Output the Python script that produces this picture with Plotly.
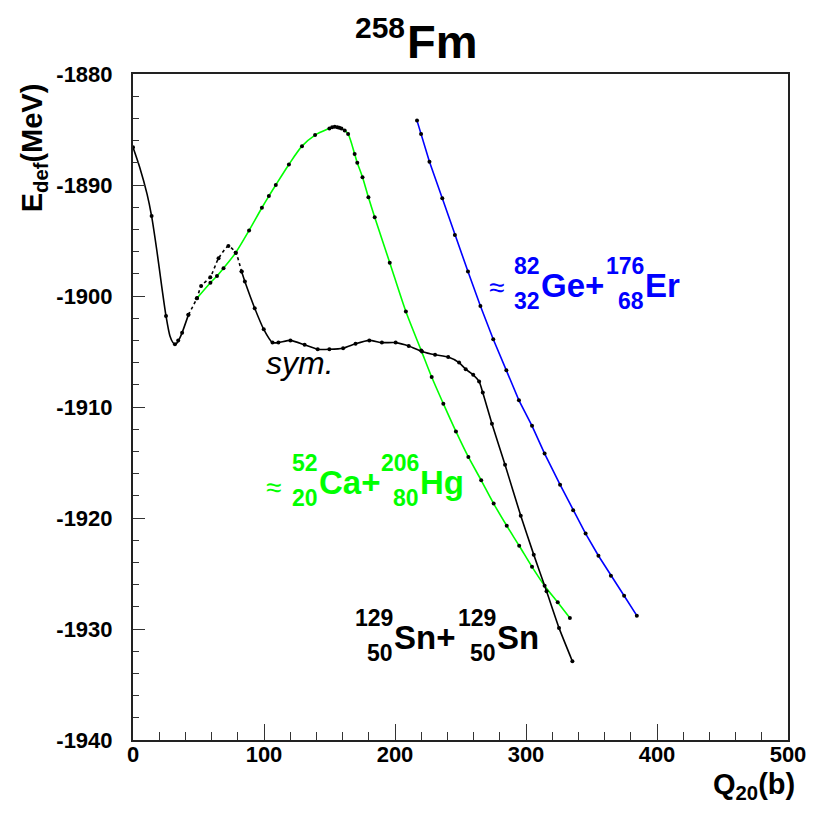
import plotly.graph_objects as go

# ---- deformation energy curves of 258Fm (E_def in MeV vs Q20 in barn) ----
# symmetric path: solid line
sym_q = [0, 5.1, 10.7, 14.2, 18.2, 22.0, 25.2, 28.2, 30.5, 32.0, 33.8, 35.7, 37.5, 42.3]
sym_e = [-1886.6, -1888.4, -1890.8, -1892.8, -1895.9, -1899.2, -1901.8, -1903.6,
         -1904.2, -1904.35, -1904.2, -1903.8, -1903.3, -1901.7]
sym_mark_q = [0, 14.2, 25.2, 32.0, 34.5, 37.5, 42.3]
sym_mark_e = [-1886.6, -1892.8, -1901.8, -1904.35, -1904.0, -1903.3, -1901.7]

# symmetric path: dotted stretch over the first barrier
symdot_q = [42.3, 48.8, 52.0, 59.0, 65.3, 72.8, 78.4, 82.9]
symdot_e = [-1901.7, -1900.2, -1899.1, -1898.3, -1896.6, -1895.5, -1896.1, -1897.8]

# symmetric path: solid continuation to scission
symb_q = [82.9, 85.4, 92.9, 99.8, 106.5, 111.0, 120.2, 131.0, 141.0, 149.9, 160.4,
          169.9, 180.4, 190.0, 200.5, 210.5, 220.6, 230.6, 240.6, 248.9, 254.0,
          259.7, 264.2, 267.0, 274.0, 284.0, 296.0, 305.9, 315.7, 325.2, 335.4]
symb_e = [-1897.8, -1898.7, -1901.1, -1903.0, -1904.2, -1904.2, -1904.0, -1904.4,
          -1904.8, -1904.8, -1904.7, -1904.3, -1904.0, -1904.2, -1904.2, -1904.5,
          -1905.0, -1905.3, -1905.5, -1906.0, -1906.6, -1907.1, -1907.7, -1908.7,
          -1911.5, -1915.2, -1919.8, -1923.3, -1926.6, -1929.9, -1932.9]

# asymmetric path towards 52Ca + 206Hg
ca_q = [48.8, 59.1, 64.1, 69.1, 78.4, 88.6, 98.4, 103.7, 109.0, 119.0, 129.0,
        139.0, 149.9, 152.0, 154.0, 156.0, 157.5, 159.1, 161.6, 164.2, 169.2, 171.2,
        175.2, 179.7, 184.5, 196.0, 208.3, 220.0, 228.0, 236.9, 246.5, 256.0,
        265.8, 275.3, 285.3, 294.8, 304.6, 314.2, 324.2, 333.5]
ca_e = [-1900.2, -1898.8, -1898.2, -1897.5, -1896.1, -1894.1, -1892.05, -1891.0,
        -1890.0, -1888.15, -1886.5, -1885.5, -1884.9, -1884.8, -1884.75, -1884.8,
        -1884.85, -1884.9, -1885.1, -1885.4, -1887.2, -1888.0, -1889.3, -1891.1,
        -1892.9, -1897.0, -1901.4, -1904.9, -1907.3, -1909.7, -1912.2, -1914.5,
        -1916.6, -1918.7, -1920.7, -1922.5, -1924.4, -1926.1, -1927.6, -1929.0]

# path towards 82Ge + 176Er
ge_q = [216.8, 219.9, 226.3, 236.1, 245.7, 255.7, 265.2, 275.0, 285.0, 294.6,
        304.6, 314.2, 326.0, 336.0, 345.5, 355.3, 364.8, 374.9, 384.6]
ge_e = [-1884.2, -1885.4, -1887.9, -1891.2, -1894.5, -1897.8, -1900.9, -1903.9,
        -1906.7, -1909.4, -1911.7, -1914.2, -1917.0, -1919.3, -1921.4, -1923.4,
        -1925.2, -1927.0, -1928.8]

# axis ticks
x_ticks = [0, 100, 200, 300, 400, 500]
y_ticks = [-1940, -1930, -1920, -1910, -1900, -1890, -1880]
y_tick_text = ["-1940", "-1930", "-1920", "-1910", "-1900", "-1890", "-1880"]

FONT = "Liberation Sans"
W, H = 818, 814
L, R, T, B = 133, 797, 74, 740


def px(xp):
    return (xp - L) / (R - L)


def py(yp):
    return (B - yp) / (B - T)


fig = go.Figure()

line_w = 1.6
dot = dict(size=4, color="black")
GREEN = "#00ff00"
BLUE = "#0000ff"

fig.add_trace(go.Scatter(x=ca_q, y=ca_e, mode="lines+markers",
                         line=dict(color=GREEN, width=line_w, shape="spline", smoothing=0.8),
                         marker=dot))
fig.add_trace(go.Scatter(x=ge_q, y=ge_e, mode="lines+markers",
                         line=dict(color=BLUE, width=line_w),
                         marker=dot))
fig.add_trace(go.Scatter(x=sym_q, y=sym_e, mode="lines",
                         line=dict(color="black", width=line_w, shape="spline", smoothing=0.8)))
fig.add_trace(go.Scatter(x=sym_mark_q, y=sym_mark_e, mode="markers", marker=dot))
fig.add_trace(go.Scatter(x=symdot_q, y=symdot_e, mode="lines+markers",
                         line=dict(color="black", width=line_w, dash="dot", shape="spline", smoothing=0.6),
                         marker=dot))
fig.add_trace(go.Scatter(x=symb_q, y=symb_e, mode="lines+markers",
                         line=dict(color="black", width=line_w, shape="spline", smoothing=0.5),
                         marker=dot))

ann = []


def text(s, x, y, size, color="black", xa="left", ya="middle", weight="bold",
         style="normal", angle=0):
    ann.append(dict(text=s, x=px(x), y=py(y), xref="paper", yref="paper",
                    xanchor=xa, yanchor=ya, showarrow=False, textangle=angle,
                    borderpad=0, borderwidth=0,
                    font=dict(family=FONT, size=size, color=color,
                              weight=weight, style=style)))


def nucleus(sym, a, z, x_left, y_mid, color, big=33, small=23):
    text(sym, x_left, y_mid, big, color)
    text(a, x_left - 1, y_mid - 19, small, color, xa="right")
    text(z, x_left - 1, y_mid + 16, small, color, xa="right")


# title: 258Fm
text("Fm", 411, 42, 47)
text("258", 409, 28, 30, xa="right")

# fragment labels
text("≈", 501, 287, 28, BLUE, xa="center", weight="normal")
nucleus("Ge+", "82", "32", 547, 285, BLUE)
nucleus("Er", "176", "68", 652, 285, BLUE)

text("≈", 275, 487, 28, GREEN, xa="center", weight="normal")
nucleus("Ca+", "52", "20", 322, 482, GREEN)
nucleus("Hg", "206", "80", 424, 482, GREEN)

nucleus("Sn+", "129", "50", 398, 637, "black")
nucleus("Sn", "129", "50", 502, 637, "black")

text("sym.", 268, 363, 32, weight="normal", style="italic")

# axis titles
text("Q<sub>20</sub>(b)", 804, 786, 29, xa="right")
text("E<sub>def</sub>(MeV)", 33, 148, 29, xa="center", angle=-90)

fig.update_layout(
    width=W, height=H,
    margin=dict(l=L, r=W - R, t=T, b=H - B),
    paper_bgcolor="white", plot_bgcolor="white",
    showlegend=False,
    annotations=ann,
    font=dict(family=FONT, color="black"),
)
fig.update_xaxes(
    range=[0, 500], tickvals=x_ticks, ticks="inside", ticklen=16, tickwidth=1,
    tickcolor="#333", showgrid=False, zeroline=False,
    showline=True, linecolor="#222", linewidth=2, mirror=True,
    tickfont=dict(family=FONT, size=22, weight="bold", color="black"),
    ticklabelstandoff=-6,
    minor=dict(dtick=20, ticks="inside", ticklen=8, tickcolor="#333", showgrid=False),
)
fig.update_yaxes(
    range=[-1940, -1880], tickvals=y_ticks, ticktext=y_tick_text,
    ticks="inside", ticklen=12, tickwidth=1,
    tickcolor="#333", showgrid=False, zeroline=False,
    showline=True, linecolor="#222", linewidth=2, mirror=True,
    tickfont=dict(family=FONT, size=22, weight="bold", color="black"),
    ticklabelstandoff=14,
    minor=dict(dtick=2, tick0=-1940, ticks="inside", ticklen=6, tickcolor="#333", showgrid=False),
)

fig.write_html("out.html")
